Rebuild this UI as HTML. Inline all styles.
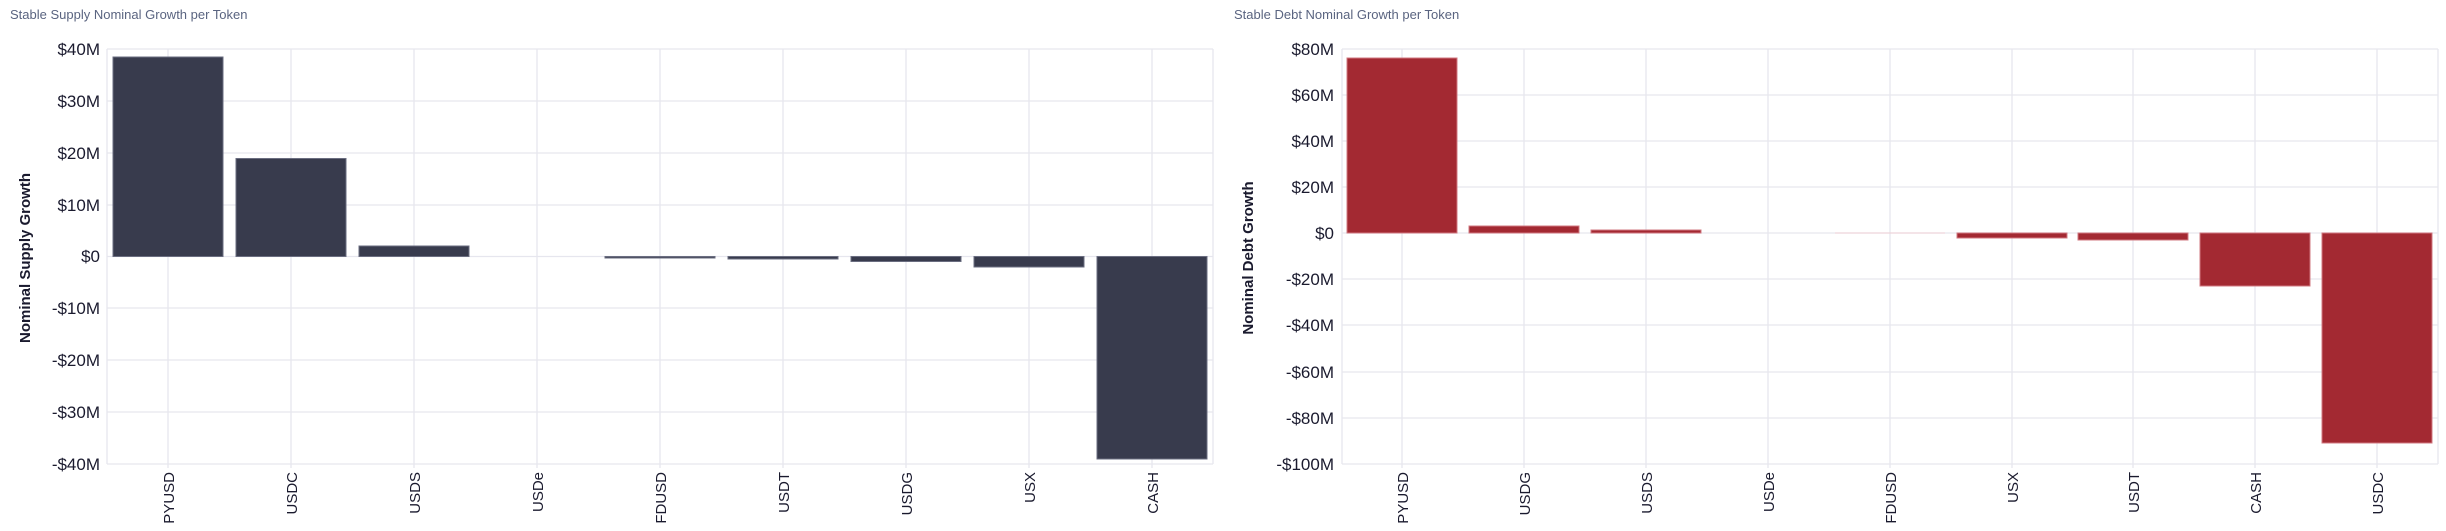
<!DOCTYPE html>
<html><head><meta charset="utf-8"><style>
html,body{margin:0;padding:0;background:#fff;}
svg{display:block;font-family:"Liberation Sans",sans-serif;}
.t{font-size:13px;fill:#5a6480;}
.y{font-size:17px;fill:#1a1a2e;text-anchor:end;}
.x{font-size:15px;fill:#1a1a2e;text-anchor:end;}
.g{stroke:#e6e6ee;stroke-width:1.3;}
.a{font-size:15px;font-weight:bold;fill:#1a1a2e;text-anchor:middle;}
</style></head><body>
<svg width="2446" height="531" viewBox="0 0 2446 531">
<text class="t" x="10" y="19">Stable Supply Nominal Growth per Token</text>
<text class="t" x="1234" y="19">Stable Debt Nominal Growth per Token</text>

<!-- Left chart -->
<g>
<g class="g">
<line x1="107" y1="49" x2="1213" y2="49"/><line x1="107" y1="101" x2="1213" y2="101"/><line x1="107" y1="153" x2="1213" y2="153"/><line x1="107" y1="205" x2="1213" y2="205"/><line x1="107" y1="256.5" x2="1213" y2="256.5"/><line x1="107" y1="308" x2="1213" y2="308"/><line x1="107" y1="360" x2="1213" y2="360"/><line x1="107" y1="412" x2="1213" y2="412"/><line x1="107" y1="464" x2="1213" y2="464"/>
<line x1="107" y1="49" x2="107" y2="464"/><line x1="1213" y1="49" x2="1213" y2="464"/>
<line x1="168" y1="49" x2="168" y2="468"/><line x1="291" y1="49" x2="291" y2="468"/><line x1="414" y1="49" x2="414" y2="468"/><line x1="537" y1="49" x2="537" y2="468"/><line x1="660" y1="49" x2="660" y2="468"/><line x1="783" y1="49" x2="783" y2="468"/><line x1="906" y1="49" x2="906" y2="468"/><line x1="1029" y1="49" x2="1029" y2="468"/><line x1="1152" y1="49" x2="1152" y2="468"/>
</g>
<g fill="#383b4d" stroke="#6a6d80" stroke-width="1">
<rect x="113" y="57" width="110" height="199.5"/>
<rect x="236" y="158.5" width="110" height="98"/>
<rect x="359" y="246" width="110" height="10.5"/>
<rect x="605" y="256.5" width="110" height="1.5"/>
<rect x="728" y="256.5" width="110" height="2.5"/>
<rect x="851" y="256.5" width="110" height="5"/>
<rect x="974" y="256.5" width="110" height="10.5"/>
<rect x="1097" y="256.5" width="110" height="202.5"/>
</g>
<g class="y">
<text x="100" y="55">$40M</text><text x="100" y="107">$30M</text><text x="100" y="159">$20M</text><text x="100" y="211">$10M</text><text x="100" y="262">$0</text><text x="100" y="314">-$10M</text><text x="100" y="366">-$20M</text><text x="100" y="418">-$30M</text><text x="100" y="470">-$40M</text>
</g>
<text class="a" transform="translate(30,258) rotate(-90)">Nominal Supply Growth</text>
<g class="x">
<text transform="translate(174,472) rotate(-90)">PYUSD</text>
<text transform="translate(297,472) rotate(-90)">USDC</text>
<text transform="translate(420,472) rotate(-90)">USDS</text>
<text transform="translate(543,472) rotate(-90)">USDe</text>
<text transform="translate(666,472) rotate(-90)">FDUSD</text>
<text transform="translate(789,472) rotate(-90)">USDT</text>
<text transform="translate(912,472) rotate(-90)">USDG</text>
<text transform="translate(1035,472) rotate(-90)">USX</text>
<text transform="translate(1158,472) rotate(-90)">CASH</text>
</g>
</g>

<!-- Right chart -->
<g>
<g class="g">
<line x1="1342" y1="49" x2="2438" y2="49"/><line x1="1342" y1="95" x2="2438" y2="95"/><line x1="1342" y1="141" x2="2438" y2="141"/><line x1="1342" y1="187" x2="2438" y2="187"/><line x1="1342" y1="233" x2="2438" y2="233"/><line x1="1342" y1="279" x2="2438" y2="279"/><line x1="1342" y1="325" x2="2438" y2="325"/><line x1="1342" y1="372" x2="2438" y2="372"/><line x1="1342" y1="418" x2="2438" y2="418"/><line x1="1342" y1="464" x2="2438" y2="464"/>
<line x1="1342" y1="49" x2="1342" y2="464"/><line x1="2438" y1="49" x2="2438" y2="464"/>
<line x1="1402" y1="49" x2="1402" y2="468"/><line x1="1524" y1="49" x2="1524" y2="468"/><line x1="1646" y1="49" x2="1646" y2="468"/><line x1="1768" y1="49" x2="1768" y2="468"/><line x1="1890" y1="49" x2="1890" y2="468"/><line x1="2012" y1="49" x2="2012" y2="468"/><line x1="2133" y1="49" x2="2133" y2="468"/><line x1="2255" y1="49" x2="2255" y2="468"/><line x1="2377" y1="49" x2="2377" y2="468"/>
</g>
<g fill="#a32932" stroke="#d07880" stroke-width="1">
<rect x="1347" y="58" width="110" height="175"/>
<rect x="1469" y="226" width="110" height="7"/>
<rect x="1591" y="230" width="110" height="3"/>
<rect x="1835" y="232.5" width="110" height="1" fill="#f0d0d4" stroke="none"/>
<rect x="1957" y="233" width="110" height="5"/>
<rect x="2078" y="233" width="110" height="7"/>
<rect x="2200" y="233" width="110" height="53"/>
<rect x="2322" y="233" width="110" height="210"/>
</g>
<g class="y">
<text x="1334" y="55">$80M</text><text x="1334" y="101">$60M</text><text x="1334" y="147">$40M</text><text x="1334" y="193">$20M</text><text x="1334" y="239">$0</text><text x="1334" y="285">-$20M</text><text x="1334" y="331">-$40M</text><text x="1334" y="378">-$60M</text><text x="1334" y="424">-$80M</text><text x="1334" y="470">-$100M</text>
</g>
<text class="a" transform="translate(1253,258) rotate(-90)">Nominal Debt Growth</text>
<g class="x">
<text transform="translate(1408,472) rotate(-90)">PYUSD</text>
<text transform="translate(1530,472) rotate(-90)">USDG</text>
<text transform="translate(1652,472) rotate(-90)">USDS</text>
<text transform="translate(1774,472) rotate(-90)">USDe</text>
<text transform="translate(1896,472) rotate(-90)">FDUSD</text>
<text transform="translate(2018,472) rotate(-90)">USX</text>
<text transform="translate(2139,472) rotate(-90)">USDT</text>
<text transform="translate(2261,472) rotate(-90)">CASH</text>
<text transform="translate(2383,472) rotate(-90)">USDC</text>
</g>
</g>
</svg>
</body></html>
